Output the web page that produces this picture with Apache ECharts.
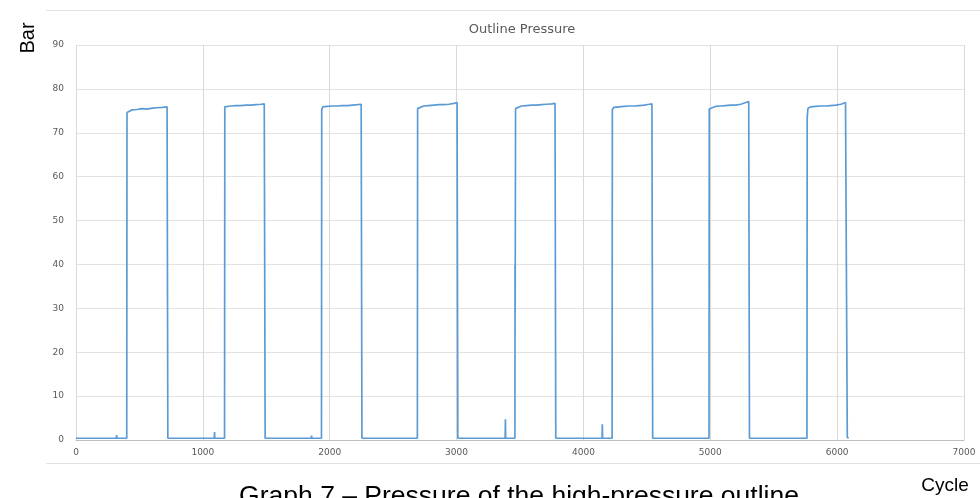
<!DOCTYPE html>
<html>
<head>
<meta charset="utf-8">
<script src="https://cdn.jsdelivr.net/npm/echarts@6/dist/echarts.min.js"></script>
<style>
html,body{margin:0;padding:0;background:#fff;}
#chart{width:980px;height:498px;}
</style>
</head>
<body>
<div id="chart"></div>
<script>
// Cycle (x) and outline pressure in bar (y)
const cycles = [
  0, 318, 320, 322, 400,
  402, 415, 440, 480, 520, 560, 600, 640, 680, 718, 722, 724,
  1090, 1092, 1094, 1171,
  1173, 1185, 1220, 1260, 1300, 1340, 1380, 1420, 1460, 1484, 1487, 1491,
  1855, 1857, 1859, 1935,
  1937, 1945, 1980, 2020, 2060, 2100, 2140, 2180, 2220, 2248, 2251, 2254,
  2691,
  2693, 2700, 2740, 2780, 2820, 2860, 2900, 2940, 2980, 3004, 3007, 3010,
  3383, 3385, 3387, 3460, 3461, 3462,
  3465, 3475, 3510, 3550, 3590, 3630, 3670, 3710, 3750, 3776, 3779, 3782,
  4147, 4149, 4151, 4226,
  4228, 4240, 4280, 4320, 4360, 4400, 4440, 4480, 4520, 4540, 4543, 4546,
  4990,
  4992, 5005, 5040, 5080, 5120, 5160, 5200, 5240, 5280, 5303, 5306, 5309,
  5762,
  5764, 5770, 5790, 5830, 5870, 5910, 5950, 5990, 6030, 6066, 6070, 6080, 6090
];
const pressure = [
  0.4, 0.4, 1.1, 0.4, 0.4,
  74.6, 75.0, 75.2, 75.3, 75.5, 75.4, 75.6, 75.7, 75.8, 75.9, 75.8, 0.4,
  0.4, 1.8, 0.4, 0.4,
  75.9, 76.1, 76.1, 76.2, 76.2, 76.3, 76.3, 76.4, 76.5, 76.6, 76.4, 0.4,
  0.4, 1.0, 0.4, 0.4,
  75.3, 75.9, 76.0, 76.1, 76.1, 76.2, 76.2, 76.3, 76.4, 76.5, 76.3, 0.4,
  0.4,
  75.5, 75.9, 76.1, 76.2, 76.3, 76.4, 76.4, 76.5, 76.7, 76.9, 76.6, 0.4,
  0.4, 4.7, 0.4, 0.4, 40.0, 29.0,
  75.5, 75.9, 76.1, 76.2, 76.3, 76.3, 76.4, 76.5, 76.6, 76.7, 76.5, 0.4,
  0.4, 3.6, 0.4, 0.4,
  75.3, 75.8, 75.9, 76.0, 76.1, 76.1, 76.2, 76.3, 76.5, 76.6, 76.3, 0.4,
  0.4,
  75.4, 75.8, 76.0, 76.1, 76.2, 76.3, 76.3, 76.5, 76.9, 77.1, 76.8, 0.4,
  0.4,
  73.5, 75.6, 75.9, 76.0, 76.1, 76.1, 76.2, 76.3, 76.5, 76.9, 76.5, 0.6, 0.4
];
const titleText = 'Outline Pressure';
const yAxisName = 'Bar';
const xAxisName = 'Cycle';
const captionText = 'Graph 7 \u2013 Pressure of the high-pressure outline';

const chart = echarts.init(document.getElementById('chart'), null, {renderer: 'canvas'});
const seriesData = cycles.map((c, i) => [c, pressure[i]]);
const labelFont = '"DejaVu Sans", "Open Sans", sans-serif';

chart.setOption({
  animation: false,
  backgroundColor: '#ffffff',
  title: {
    text: titleText,
    left: 517,
    top: 18,
    textAlign: 'center',
    textStyle: {color: '#595959', fontSize: 13, fontWeight: 'normal', fontFamily: labelFont}
  },
  grid: {left: 76, right: 16, top: 45, bottom: 58, containLabel: false},
  xAxis: {
    type: 'value',
    min: 0, max: 7000, interval: 1000,
    axisLine: {show: true, lineStyle: {color: '#bfbfbf', width: 1}},
    axisTick: {show: false},
    axisLabel: {color: '#595959', fontSize: 9, fontFamily: labelFont, margin: 8, formatter: v => String(v)},
    splitLine: {show: true, lineStyle: {color: '#d9d9d9', width: 1}}
  },
  yAxis: {
    type: 'value',
    min: 0, max: 90, interval: 10,
    axisLine: {show: false},
    axisTick: {show: false},
    axisLabel: {color: '#595959', fontSize: 9, fontFamily: labelFont, margin: 12},
    splitLine: {show: true, lineStyle: {color: '#e3e3e3', width: 1}}
  },
  series: [{
    type: 'line',
    data: seriesData,
    showSymbol: false,
    symbol: 'none',
    lineStyle: {color: '#5b9bd5', width: 1.7},
    itemStyle: {color: '#5b9bd5'}
  }],
  graphic: [
    {type: 'line', shape: {x1: 46, y1: 10.5, x2: 980, y2: 10.5}, style: {stroke: '#e3e3e3', lineWidth: 1}},
    {type: 'line', shape: {x1: 46, y1: 463.5, x2: 980, y2: 463.5}, style: {stroke: '#e3e3e3', lineWidth: 1}},
    {type: 'text', x: 28, y: 38, rotation: Math.PI / 2, style: {text: yAxisName, fill: '#000', font: '20px "Liberation Sans", Arial, sans-serif', textAlign: 'center', textVerticalAlign: 'middle'}},
    {type: 'text', x: 945, y: 486, style: {text: xAxisName, fill: '#000', font: '19px "Liberation Sans", Arial, sans-serif', textAlign: 'center', textVerticalAlign: 'middle'}},
    {type: 'text', x: 519, y: 483, style: {text: captionText, fill: '#000', font: '26.5px "Liberation Sans", Arial, sans-serif', textAlign: 'center', textVerticalAlign: 'top'}}
  ]
});
</script>
</body>
</html>
